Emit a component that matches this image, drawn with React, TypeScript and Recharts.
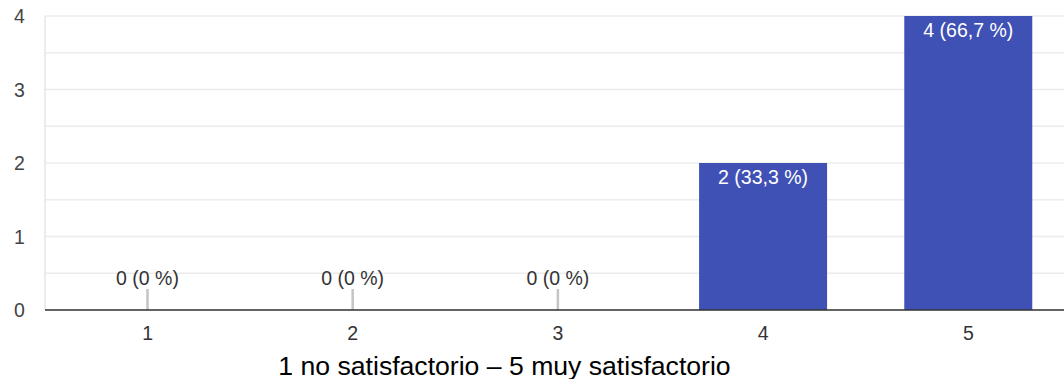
import React from 'react';
import { BarChart, Bar, XAxis, YAxis, CartesianGrid, LabelList } from 'recharts';

// Response counts per rating (1–5)
const categories = ['1', '2', '3', '4', '5'];
const counts = [0, 0, 0, 2, 4];
const yTicks = [0, 0.5, 1, 1.5, 2, 2.5, 3, 3.5, 4];
const axisTitle = '1 no satisfactorio – 5 muy satisfactorio';

const total = counts.reduce((a, b) => a + b, 0);
const data = categories.map((c, i) => ({ name: c, value: counts[i] }));

const FONT = "Arial, 'Liberation Sans', sans-serif";
const BAR_COLOR = '#3f51b5';
const FS = 19.5;

const fmtPct = (v: number) => {
  const p = total ? (v / total) * 100 : 0;
  const s = Number.isInteger(p) ? String(p) : p.toFixed(1).replace('.', ',');
  return `${v} (${s} %)`;
};

// Bars with zero value get a short grey stub instead of a filled rect
const BarShape = (props: any) => {
  const { x, y, width, height, value } = props;
  if (!value) {
    const cx = x + width / 2;
    const base = y + height;
    return <line x1={cx} x2={cx} y1={base} y2={base - 21} stroke="#c4c4c4" strokeWidth={2.5} />;
  }
  return <rect x={x} y={y} width={width} height={height} fill={BAR_COLOR} />;
};

const BarLabel = (props: any) => {
  const { x, y, width, height, value } = props;
  const cx = x + width / 2;
  if (!value) {
    const base = y + height;
    return (
      <text x={cx} y={base - 25} textAnchor="middle" fill="#333" fontSize={FS} fontFamily={FONT}>
        {fmtPct(value)}
      </text>
    );
  }
  return (
    <text x={cx} y={y + 21} textAnchor="middle" fill="#fff" fontSize={FS} fontFamily={FONT}>
      {fmtPct(value)}
    </text>
  );
};

const YTick = (props: any) => {
  const { y, payload } = props;
  if (!Number.isInteger(payload.value)) return null;
  return (
    <text x={14} y={y + 7} textAnchor="start" fill="#444" fontSize={FS} fontFamily={FONT}>
      {payload.value}
    </text>
  );
};

const XTick = (props: any) => {
  const { x, y, payload } = props;
  return (
    <text x={x} y={y + 22} textAnchor="middle" fill="#333" fontSize={FS} fontFamily={FONT}>
      {payload.value}
    </text>
  );
};

export default function App() {
  return (
    <div
      style={{
        position: 'fixed',
        left: 0,
        top: 0,
        width: 1064,
        height: 379,
        overflow: 'hidden',
        background: '#fff',
      }}
    >
      <BarChart
        width={1071}
        height={379}
        data={data}
        margin={{ top: 16, right: 0, bottom: 0, left: 0 }}
        barCategoryGap="18.75%"
      >
        <CartesianGrid vertical={false} stroke="#ececec" strokeWidth={1.5} />
        <YAxis
          domain={[0, 4]}
          ticks={yTicks}
          width={45}
          axisLine={{ stroke: '#e6e6e6', strokeWidth: 1.5 }}
          tickLine={false}
          tick={<YTick />}
          interval={0}
        />
        <XAxis
          dataKey="name"
          height={69}
          axisLine={{ stroke: '#333', strokeWidth: 1.5 }}
          tickLine={false}
          tick={<XTick />}
        />
        <Bar dataKey="value" isAnimationActive={false} shape={<BarShape />}>
          <LabelList dataKey="value" content={<BarLabel />} />
        </Bar>
      </BarChart>
      <div
        style={{
          position: 'absolute',
          left: 0,
          width: 1009,
          top: 353,
          height: 26,
          lineHeight: '26px',
          textAlign: 'center',
          fontFamily: FONT,
          fontSize: 26.6,
          color: '#000',
          whiteSpace: 'nowrap',
        }}
      >
        {axisTitle}
      </div>
    </div>
  );
}
